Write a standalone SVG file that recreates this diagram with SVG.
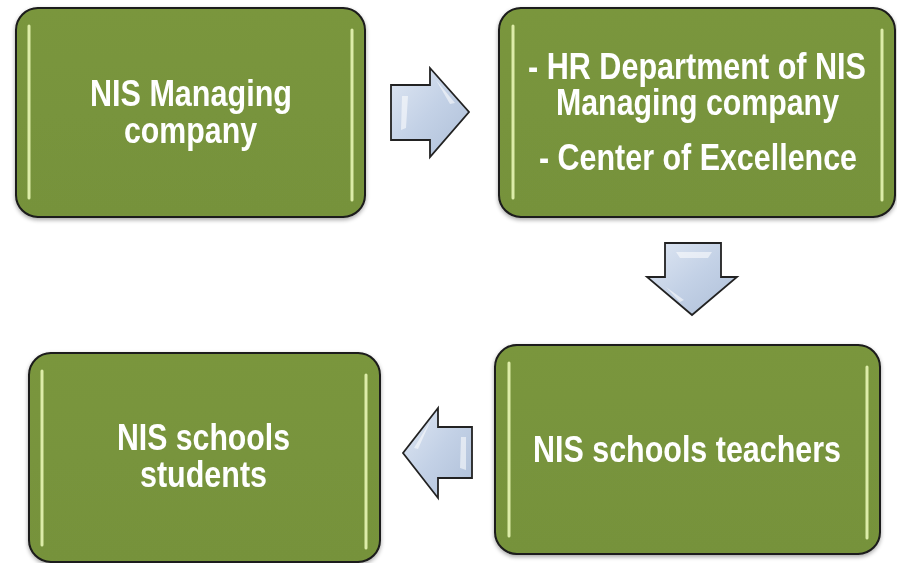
<svg xmlns="http://www.w3.org/2000/svg" width="897" height="563" viewBox="0 0 897 563">
<defs>
<linearGradient id="arrowGrad" x1="0" y1="0" x2="1" y2="1">
<stop offset="0" stop-color="#dfe7f3"/>
<stop offset="0.5" stop-color="#c3d1e6"/>
<stop offset="1" stop-color="#aebfd8"/>
</linearGradient>
<linearGradient id="boxGrad" x1="0" y1="0" x2="0" y2="1">
<stop offset="0" stop-color="#7a963d"/>
<stop offset="1" stop-color="#76923b"/>
</linearGradient>
<filter id="sh" x="-5%" y="-5%" width="110%" height="115%">
<feGaussianBlur in="SourceAlpha" stdDeviation="2"/>
<feOffset dx="0" dy="2"/>
<feComponentTransfer><feFuncA type="linear" slope="0.35"/></feComponentTransfer>
<feMerge><feMergeNode/><feMergeNode in="SourceGraphic"/></feMerge>
</filter>
</defs>
<style>
.box{fill:url(#boxGrad);stroke:#1a1a1a;stroke-width:2}
.gloss{stroke:#e8f6b4;stroke-width:3;stroke-linecap:round;opacity:0.9}
.t{font-family:"Liberation Sans",Arial,sans-serif;font-weight:bold;font-size:36px;fill:#ffffff;text-anchor:middle}
.arrow{fill:url(#arrowGrad);stroke:#222;stroke-width:1.8;stroke-linejoin:miter}
.hl{fill:#ffffff;opacity:0.55}
</style>
<g id="node-managing" filter="url(#sh)">
<rect class="box" x="16" y="8" width="349" height="209" rx="22"/>
<line class="gloss" x1="29" y1="26" x2="29" y2="198"/>
<line class="gloss" x1="352" y1="30" x2="352" y2="200"/>
<text class="t" x="191" y="106" textLength="202" lengthAdjust="spacingAndGlyphs">NIS Managing</text>
<text class="t" x="190.5" y="143" textLength="133" lengthAdjust="spacingAndGlyphs">company</text>
</g>
<g id="node-hr" filter="url(#sh)">
<rect class="box" x="499" y="8" width="396" height="209" rx="22"/>
<line class="gloss" x1="513" y1="26" x2="513" y2="198"/>
<line class="gloss" x1="882" y1="30" x2="882" y2="200"/>
<text class="t" x="697" y="79" textLength="338" lengthAdjust="spacingAndGlyphs">- HR Department of NIS</text>
<text class="t" x="697.5" y="115" textLength="283" lengthAdjust="spacingAndGlyphs">Managing company</text>
<text class="t" x="698" y="170" textLength="318" lengthAdjust="spacingAndGlyphs">- Center of Excellence</text>
</g>
<g id="node-teachers" filter="url(#sh)">
<rect class="box" x="495" y="345" width="385" height="209" rx="22"/>
<line class="gloss" x1="509" y1="363" x2="509" y2="536"/>
<line class="gloss" x1="867" y1="367" x2="867" y2="538"/>
<text class="t" x="687" y="462" textLength="308" lengthAdjust="spacingAndGlyphs">NIS schools teachers</text>
</g>
<g id="node-students" filter="url(#sh)">
<rect class="box" x="29" y="353" width="351" height="209" rx="22"/>
<line class="gloss" x1="42" y1="371" x2="42" y2="545"/>
<line class="gloss" x1="366" y1="375" x2="366" y2="548"/>
<text class="t" x="203.5" y="450" textLength="173" lengthAdjust="spacingAndGlyphs">NIS schools</text>
<text class="t" x="203.5" y="487" textLength="127" lengthAdjust="spacingAndGlyphs">students</text>
</g>
<g id="connectors">
<g id="arrow-right">
<path class="arrow" d="M391,85 L430,85 L430,68 L469,112 L430,157 L430,140 L391,140 Z"/>
<path class="hl" d="M402,96 L408,96 L406,128 L401,130 Z"/>
<path class="hl" d="M436,80 L455,103 L450,104 Z"/>
</g>
<g id="arrow-down">
<path class="arrow" d="M665,243 L721,243 L721,277 L737,277 L692,315 L647,277 L665,277 Z"/>
<path class="hl" d="M676,252 L712,252 L708,258 L680,258 Z"/>
<path class="hl" d="M666,287 L684,300 L680,302 Z"/>
</g>
<g id="arrow-left">
<path class="arrow" d="M472,427 L438,427 L438,408 L403,453 L438,498 L438,478 L472,478 Z"/>
<path class="hl" d="M461,437 L466,437 L466,470 L460,468 Z"/>
<path class="hl" d="M431,420 L414,448 L418,449 Z"/>
</g>
</g>
</svg>
